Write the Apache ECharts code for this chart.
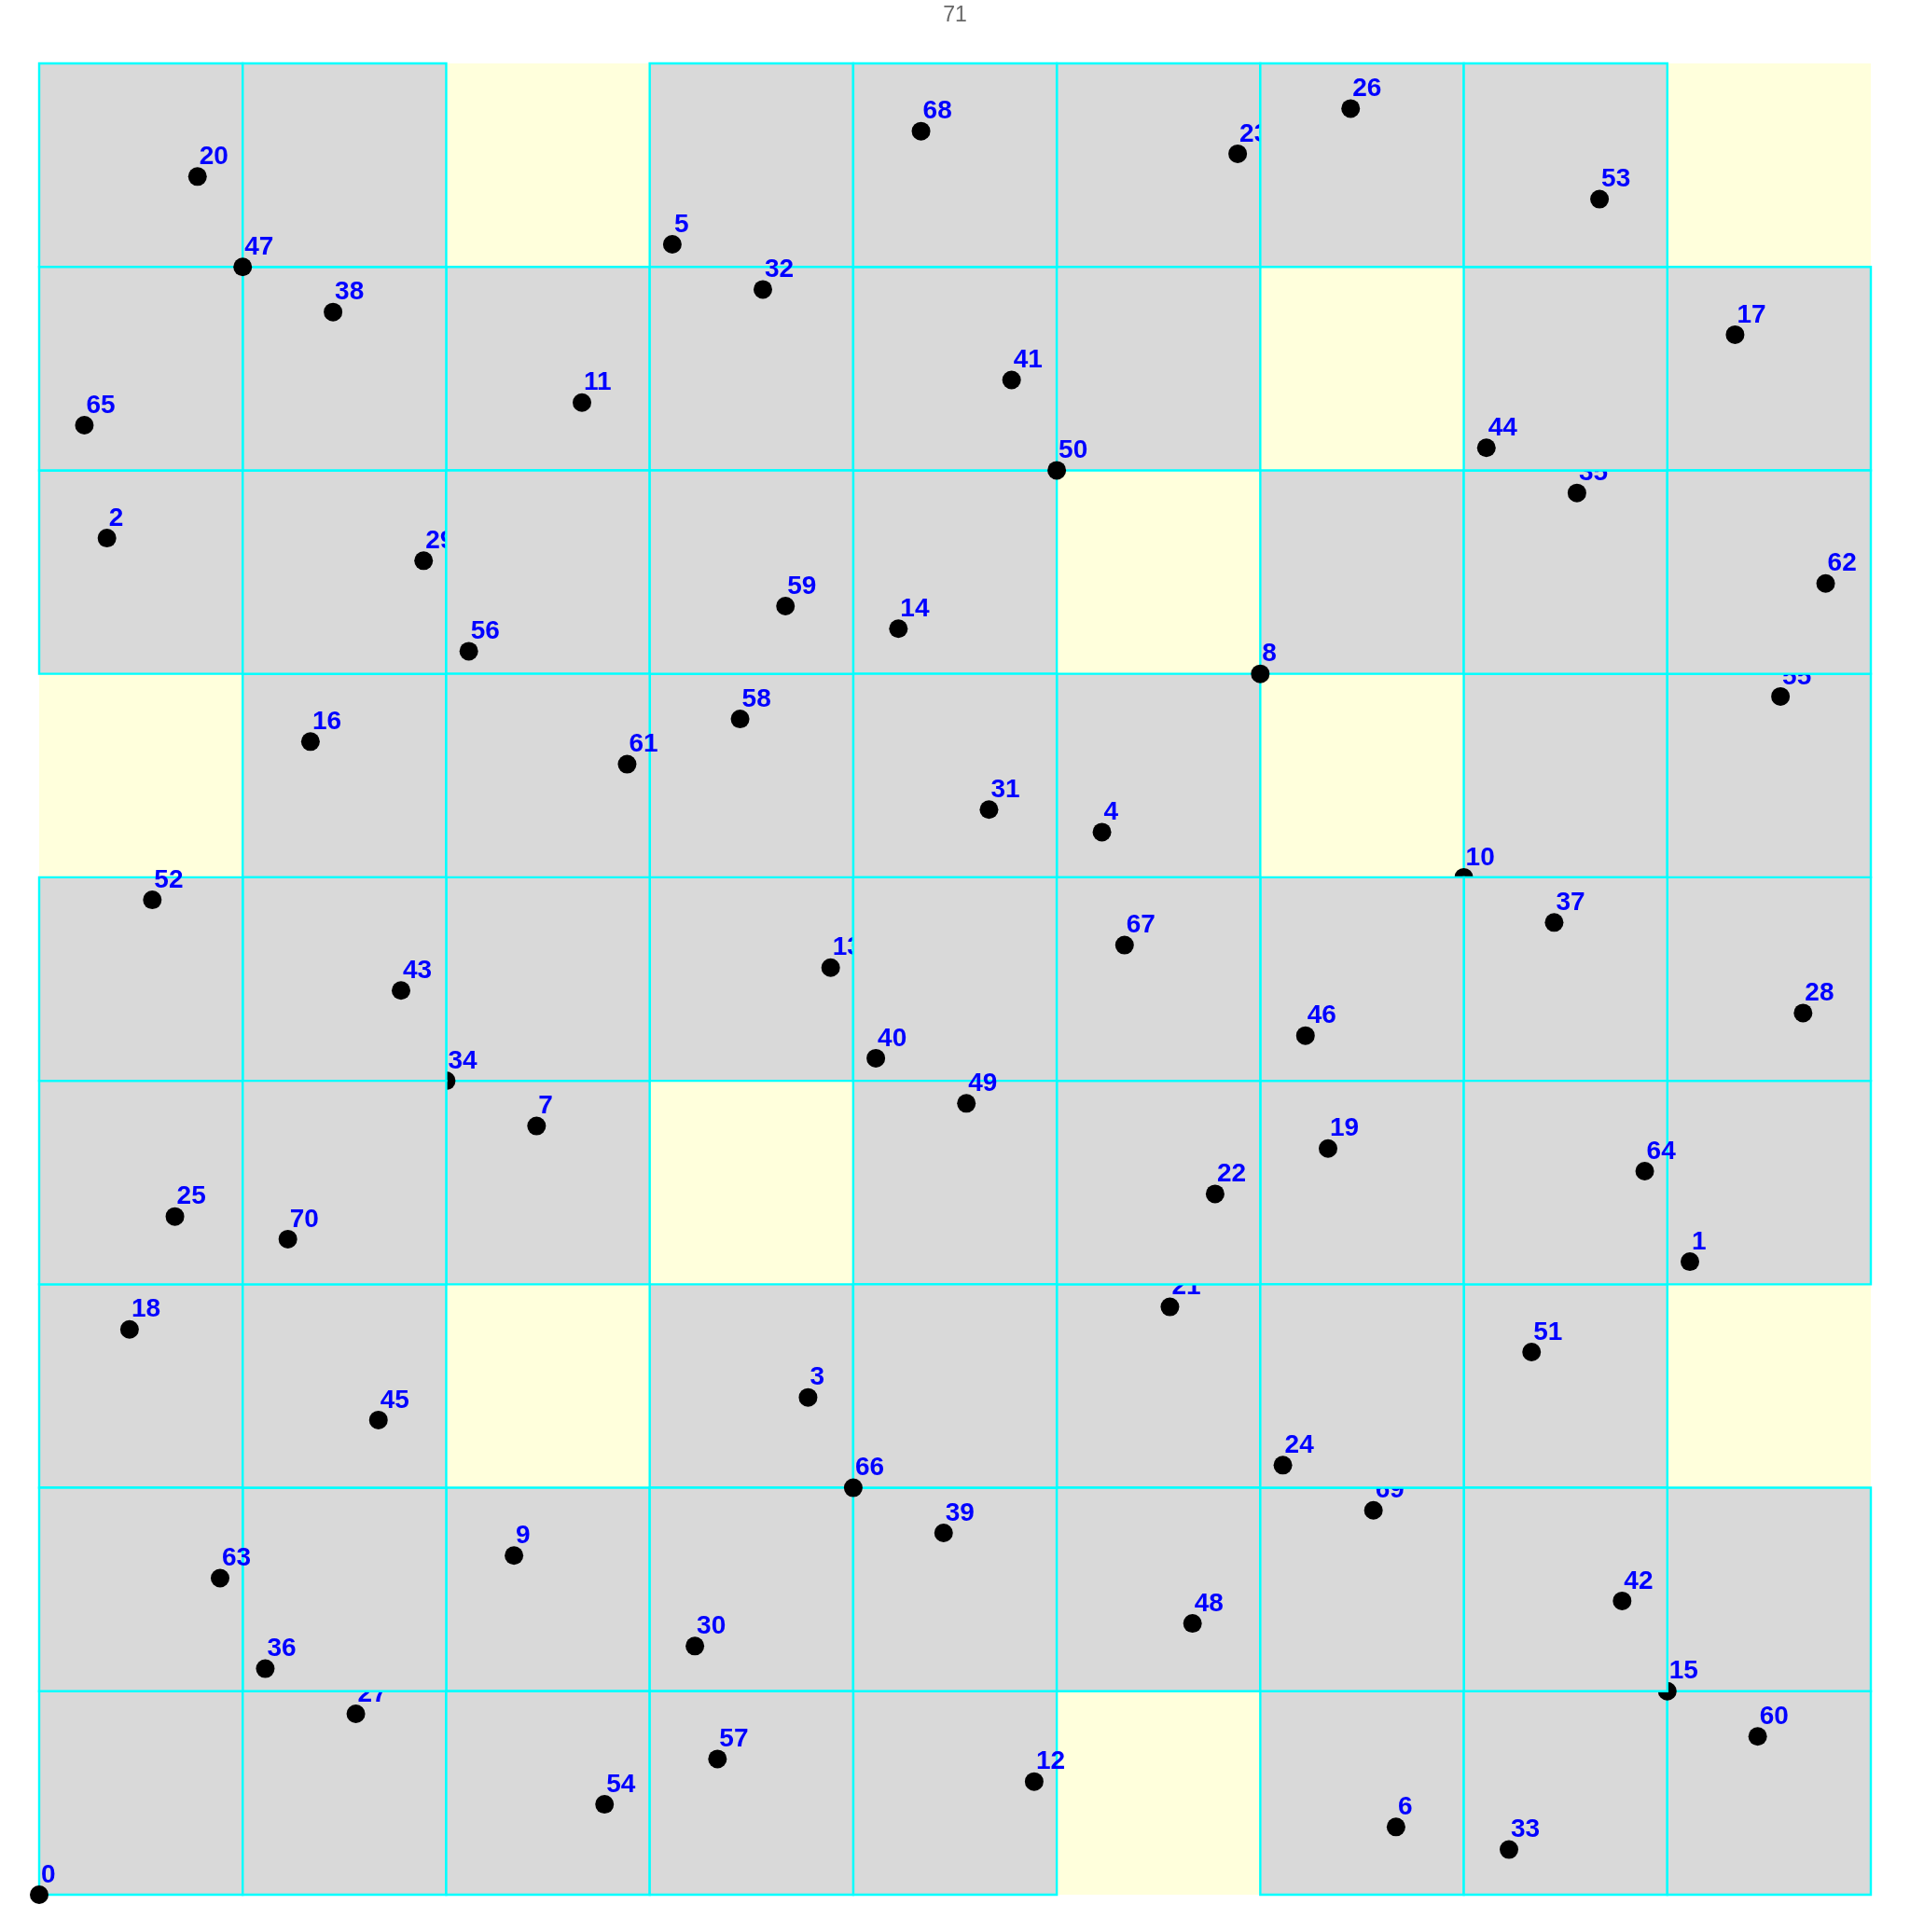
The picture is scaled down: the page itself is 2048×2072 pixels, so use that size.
<!DOCTYPE html>
<html>
<head>
<meta charset="utf-8">
<script src="https://cdn.jsdelivr.net/npm/echarts@6/dist/echarts.min.js"></script>
<style>html,body{margin:0;padding:0;background:#fff}#c{width:2048px;height:2072px}</style>
</head>
<body>
<div id="c"></div>
<script>
const titleText = '71';
const xs = [0, 8.111, 0.333, 3.778, 5.222, 3.111, 6.667, 2.444, 6, 2.333,
  7, 2.667, 4.889, 3.889, 4.222, 8, 1.333, 8.333, 0.444, 6.333,
  0.778, 5.556, 5.778, 5.889, 6.111, 0.667, 6.444, 1.556, 8.667, 1.889,
  3.222, 4.667, 3.556, 7.222, 2, 7.556, 1.111, 7.444, 1.444, 4.444,
  4.111, 4.778, 7.778, 1.778, 7.111, 1.667, 6.222, 1, 5.667, 4.556,
  5, 7.333, 0.556, 7.667, 2.778, 8.556, 2.111, 3.333, 3.444, 3.667,
  8.444, 2.889, 8.778, 0.889, 7.889, 0.222, 4, 5.333, 4.333, 6.556,
  1.222];
const ys = [0, 3.111, 6.667, 2.444, 5.222, 8.111, 0.333, 3.778, 6, 1.667,
  5, 7.333, 0.556, 4.556, 6.222, 1, 5.667, 7.667, 2.778, 3.667,
  8.444, 2.889, 3.444, 8.556, 2.111, 3.333, 8.778, 0.889, 4.333, 6.556,
  1.222, 5.333, 7.889, 0.222, 4, 6.889, 1.111, 4.778, 7.778, 1.778,
  4.111, 7.444, 1.444, 4.444, 7.111, 2.333, 4.222, 8, 1.333, 3.889,
  7, 2.667, 4.889, 8.333, 0.444, 5.889, 6.111, 0.667, 5.778, 6.333,
  0.778, 5.556, 6.444, 1.556, 3.556, 7.222, 2, 4.667, 8.667, 1.889,
  3.222];
// stacking order of the marks as seen in the picture (first = bottom)
const drawOrder = [0, 1, 2, 3, 4, 5, 6, 7, 8, 9, 10, 11, 12, 13, 14, 16, 17, 18, 19, 20,
  21, 22, 23, 25, 26, 27, 28, 29, 30, 31, 32, 33, 34, 35, 36, 37, 38, 39, 40, 41,
  43, 44, 45, 46, 48, 49, 50, 51, 52, 53, 54, 55, 56, 57, 58, 59, 60, 15, 42, 61,
  62, 63, 64, 65, 47, 66, 67, 68, 69, 24, 70];
const axisMin = 0, axisMax = 9;

const data = drawOrder.map(i => [xs[i], ys[i], i]);

const chart = echarts.init(document.getElementById('c'));
chart.setOption({
  animation: false,
  title: {
    text: titleText, left: 'center', top: 0,
    textStyle: { color: '#666', fontSize: 23, fontWeight: 'normal', fontFamily: 'Liberation Sans, Arial, sans-serif' }
  },
  grid: { left: 42, right: 42, top: 68, bottom: 40, show: true, backgroundColor: '#ffffdc', borderWidth: 0 },
  xAxis: { type: 'value', min: axisMin, max: axisMax, show: false },
  yAxis: { type: 'value', min: axisMin, max: axisMax, show: false },
  series: [{
    type: 'custom',
    clip: false,
    silent: true,
    data: data,
    renderItem: function (params, api) {
      const x = api.value(0), y = api.value(1), id = api.value(2);
      const gx = Math.floor(x + 1e-9), gy = Math.floor(y + 1e-9);
      const p0 = api.coord([gx, gy + 1]);
      const p1 = api.coord([gx + 1, gy]);
      const pt = api.coord([x, y]);
      return {
        type: 'group',
        children: [
          { type: 'rect', shape: { x: p0[0], y: p0[1], width: p1[0] - p0[0], height: p1[1] - p0[1] },
            style: { fill: '#d9d9d9', stroke: '#00ffff', lineWidth: 2.4 } },
          { type: 'circle', shape: { cx: pt[0], cy: pt[1], r: 10 }, style: { fill: '#000' } },
          { type: 'text', x: pt[0] + 2, y: pt[1] - 21,
            style: { text: String(id), fill: '#0000ff',
              font: 'bold 28px "Liberation Sans", Arial, sans-serif', align: 'left', verticalAlign: 'middle' } }
        ]
      };
    }
  }]
});
</script>
</body>
</html>
